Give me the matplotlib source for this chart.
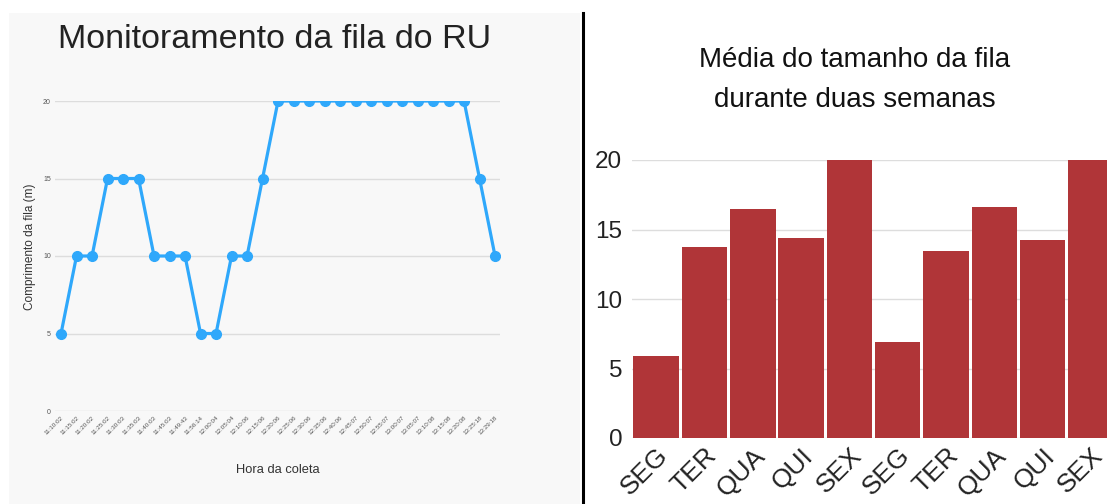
import matplotlib.pyplot as plt
import matplotlib.transforms as mtransforms
from matplotlib.patches import Rectangle
from matplotlib.lines import Line2D

plt.rcParams['font.family'] = ['Liberation Sans', 'DejaVu Sans']

# left chart: queue length over time
horas = ["11:10:02", "11:15:02", "11:20:02", "11:25:02", "11:30:03", "11:35:03",
         "11:40:03", "11:45:03", "11:49:43", "11:56:14", "12:00:04", "12:05:04",
         "12:10:06", "12:15:06", "12:20:06", "12:25:06", "12:30:06", "12:35:06",
         "12:40:06", "12:45:07", "12:50:07", "12:55:07", "13:00:07", "13:05:07",
         "13:10:08", "13:15:08", "13:20:08", "13:25:18", "13:29:18"]
comprimento = [5, 10, 10, 15, 15, 15, 10, 10, 10, 5, 5, 10, 10, 15, 20,
               20, 20, 20, 20, 20, 20, 20, 20, 20, 20, 20, 20, 15, 10]

# right chart: average per weekday, two weeks
dias = ["SEG", "TER", "QUA", "QUI", "SEX", "SEG", "TER", "QUA", "QUI", "SEX"]
media = [5.9, 13.75, 16.5, 14.4, 20.0, 6.9, 13.45, 16.65, 14.25, 20.0]

W, H = 1107, 504
fig = plt.figure(figsize=(W / 100, H / 100), dpi=100)
fig.patch.set_facecolor('white')

# gray panel behind left chart and black separator
bg = Rectangle((9 / W, 0), 571 / W, 491 / H, transform=fig.transFigure,
               facecolor='#f8f8f8', edgecolor='none', zorder=-10)
fig.add_artist(bg)
fig.add_artist(Line2D([583 / W, 583 / W], [0, 491 / H], transform=fig.transFigure,
                      color='black', linewidth=2.2))

ax1 = fig.add_axes([55 / W, 93 / H, 445 / W, 310 / H])
ax1.set_facecolor('none')
x = list(range(len(horas)))
ax1.plot(x, comprimento, color='#2fa8fb', linewidth=2.3, marker='o', markersize=7)
ax1.set_xlim(-0.39, 28.32)
ax1.set_ylim(0, 20)
ax1.set_yticks([0, 5, 10, 15, 20])
ax1.set_xticks(x)
ax1.set_xticklabels(horas, rotation=45, ha='right', rotation_mode='anchor',
                    fontsize=4.5, color='#555555')
ax1.tick_params(axis='y', labelsize=5, colors='#555555', length=0, pad=3)
ax1.tick_params(axis='x', length=0, pad=3)
ax1.grid(axis='y', color='#dddddd', linewidth=1)
ax1.set_axisbelow(True)
for s in ax1.spines.values():
    s.set_visible(False)
ax1.set_ylabel("Comprimento da fila (m)", fontsize=8.5, color='#333333')
ax1.yaxis.set_label_coords(-0.043, 0.53)
ax1.set_xlabel("Hora da coleta", fontsize=9.3, color='#333333', labelpad=20)
fig.text(275 / W, 1 - 39 / H, "Monitoramento da fila do RU", fontsize=24.5,
         color='#222222', ha='center', va='center')

ax2 = fig.add_axes([632 / W, 66 / H, 475 / W, 278 / H])
ax2.set_facecolor('white')
ax2.bar(range(len(dias)), media, width=0.94, color='#b03538')
ax2.set_xlim(-0.5, 9.33)
ax2.set_ylim(0, 20)
ax2.set_yticks([0, 5, 10, 15, 20])
ax2.set_xticks(range(len(dias)))
ax2.set_xticklabels(dias, rotation=45, ha='right', rotation_mode='anchor',
                    fontsize=19, color='#222222')
shift = mtransforms.ScaledTranslation(22 / 100, 0, fig.dpi_scale_trans)
for lab in ax2.get_xticklabels():
    lab.set_transform(lab.get_transform() + shift)
ax2.tick_params(axis='y', labelsize=17.5, colors='#222222', length=0, pad=7)
ax2.tick_params(axis='x', length=0, pad=4)
ax2.grid(axis='y', color='#dddddd', linewidth=1)
ax2.set_axisbelow(True)
for s in ax2.spines.values():
    s.set_visible(False)
fig.text(855 / W, 1 - 80 / H, "Média do tamanho da fila\ndurante duas semanas",
         fontsize=20, color='#111111', ha='center', va='center', linespacing=1.7)

fig.savefig("out.png", dpi=100)
